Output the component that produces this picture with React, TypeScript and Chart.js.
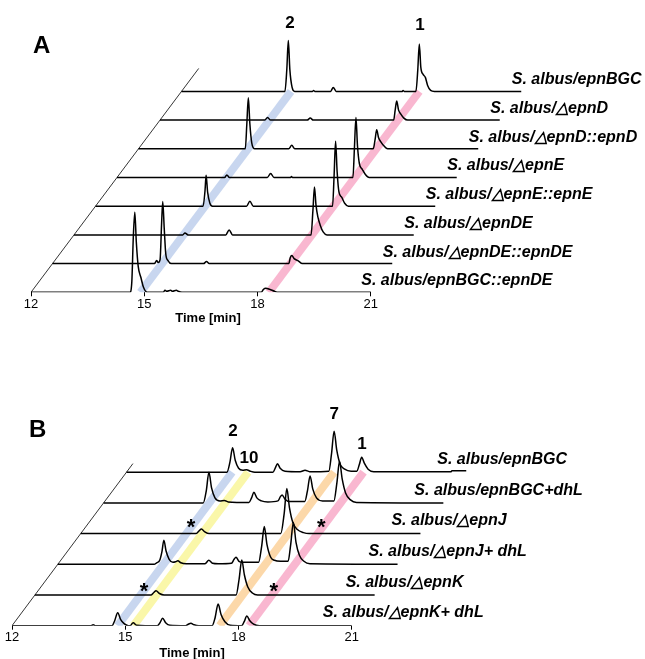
import React, { useEffect, useRef } from 'react';
import { Chart, registerables } from 'chart.js';

Chart.register(...registerables);

const FONT = "'Liberation Sans', Arial, Helvetica, sans-serif";
const TICK_VALUES = [12, 15, 18, 21];
const AXIS_TITLE = 'Time [min]';

// ---------- Panel A (traces listed bottom -> top) ----------
const A_NAMES = [
  'S. albus/epnBGC::epnDE',
  'S. albus/△epnDE::epnDE',
  'S. albus/△epnDE',
  'S. albus/△epnE::epnE',
  'S. albus/△epnE',
  'S. albus/△epnD::epnD',
  'S. albus/△epnD',
  'S. albus/epnBGC',
];

const A_epnBGC_epnDE = [[12,0],[14.62,0],[14.67,10],[14.71,55],[14.75,80],[14.79,50],[14.84,26],[14.91,15],[14.98,5],[15.08,0],[15.5,0],[15.55,2],[15.6,1],[15.7,2],[15.75,1],[15.85,2],[15.9,1],[16.0,0],[18.1,0],[18.16,3],[18.22,4],[18.32,3],[18.45,1],[18.55,0],[21,0]];
const A_dDE_epnDE = [[12,0],[14.7,0],[14.76,3],[14.8,1],[14.85,4],[14.89,40],[14.92,62],[14.96,35],[15.0,10],[15.06,3],[15.15,0],[16.0,0],[16.08,2],[16.15,0],[18.26,0],[18.3,6],[18.34,8],[18.4,5],[18.5,3],[18.62,0],[21,0]];
const A_dDE = [[12,0],[14.88,0],[14.94,2],[15.02,0],[16.02,0],[16.11,5],[16.2,0],[18.28,0],[18.33,25],[18.37,48],[18.41,30],[18.46,18],[18.52,10],[18.6,3],[18.7,0],[21,0]];
const A_dE_epnE = [[12,0],[14.85,0],[14.9,15],[14.93,31],[14.97,14],[15.03,3],[15.1,0],[16.0,0],[16.09,5],[16.18,0],[18.28,0],[18.32,30],[18.36,65],[18.4,35],[18.45,14],[18.52,9],[18.6,3],[18.7,0],[21,0]];
const A_dE = [[12,0],[14.85,0],[14.91,2.5],[14.98,0],[15.98,0],[16.07,4],[16.16,0],[16.6,0],[16.62,1],[16.65,0],[18.25,0],[18.29,30],[18.33,60],[18.37,32],[18.42,14],[18.5,8],[18.58,3],[18.68,0],[21,0]];
const A_dD_epnD = [[12,0],[14.83,0],[14.87,25],[14.91,51],[14.95,25],[15.0,6],[15.08,0],[15.98,0],[16.06,3.5],[16.14,0],[18.22,0],[18.27,10],[18.31,19],[18.36,11],[18.42,7],[18.5,3],[18.6,0],[21,0]];
const A_dD = [[12,0],[14.77,0],[14.85,2.5],[14.93,0],[15.9,0],[15.98,2],[16.06,0],[18.19,0],[18.23,10],[18.27,19],[18.32,10],[18.38,6],[18.46,2],[18.56,0],[21,0]];
const A_epnBGC = [[12,0],[14.74,0],[14.79,22],[14.83,51],[14.87,22],[14.93,4],[15.0,0],[15.47,0],[15.5,1],[15.53,0],[15.95,0],[16.02,4],[16.1,0],[17.85,0],[17.87,1],[17.9,0],[18.21,0],[18.26,22],[18.3,47.5],[18.34,24],[18.4,17],[18.46,14],[18.52,6],[18.6,1],[18.7,0],[21,0]];
const A_TRACES = [A_epnBGC_epnDE, A_dDE_epnDE, A_dDE, A_dE_epnE, A_dE, A_dD_epnD, A_dD, A_epnBGC];

const A_BAND_TIMES = [14.9, 18.3];
const A_BAND_COLORS = ['rgba(190,207,236,0.85)', 'rgba(248,170,200,0.85)'];
const A_PEAK_LABELS = [
  { text: '2', t: 14.874, k: 7, h: 68.4 },
  { text: '1', t: 18.32, k: 7, h: 66.4 },
];

// ---------- Panel B (traces listed bottom -> top) ----------
const B_NAMES = [
  'S. albus/△epnK+ dhL',
  'S. albus/△epnK',
  'S. albus/△epnJ+ dhL',
  'S. albus/△epnJ',
  'S. albus/epnBGC+dhL',
  'S. albus/epnBGC',
];

const B_dK_dhL = [[12,0],[14.1,0],[14.15,1],[14.2,0],[14.65,0],[14.72,5],[14.8,13],[14.88,6],[14.97,2],[15.08,0],[15.13,0],[15.21,3],[15.3,0.5],[15.85,0],[15.92,3],[15.99,7.4],[16.07,3],[16.18,0.5],[16.6,0],[16.67,1.5],[16.74,2.4],[16.82,1],[16.95,0],[17.3,0],[17.38,8],[17.46,21.7],[17.54,11],[17.64,4],[17.78,0.5],[18.08,0],[18.15,4],[18.22,9.7],[18.3,5],[18.4,1.5],[18.55,0],[21,0]];
const B_dK = [[12,0],[15.08,0],[15.15,2.5],[15.21,4.3],[15.3,1.5],[15.42,0],[17.33,0],[17.41,16],[17.48,35],[17.55,20],[17.64,8],[17.76,2],[17.9,0],[21,0]];
const B_dJ_dhL = [[12,0],[14.55,0],[14.62,1.5],[14.7,4],[14.76,13],[14.81,24],[14.87,13],[14.95,5],[15.05,2],[15.12,2.5],[15.18,3.5],[15.26,1.5],[15.4,0.5],[15.9,0.5],[16.0,4],[16.1,1],[16.25,0.5],[16.6,1],[16.67,5],[16.72,7],[16.8,3],[16.9,2],[17.32,2],[17.4,18],[17.47,37.7],[17.54,20],[17.64,7],[17.74,4],[17.9,3],[18.1,3],[18.17,20],[18.24,41.7],[18.31,22],[18.4,9],[18.52,3],[18.68,0.5],[21,0]];
const B_dJ = [[12,0],[15.05,0],[15.13,2.5],[15.2,4.5],[15.28,2],[15.4,0],[17.3,0],[17.39,20],[17.46,45],[17.53,26],[17.62,11],[17.74,4],[17.9,1],[18.05,0],[21,0]];
const B_epnBGC_dhL = [[12,0],[14.64,0],[14.72,12],[14.79,30.6],[14.86,15],[14.95,5],[15.08,2],[15.2,2.5],[15.3,1],[15.85,0.5],[15.92,5],[15.98,10.6],[16.06,5],[16.18,2],[16.35,1],[16.62,2],[16.68,6],[16.73,8],[16.8,4],[16.92,1.5],[17.33,1.5],[17.4,12],[17.47,27],[17.54,14],[17.64,5],[17.8,2],[18.1,2],[18.18,20],[18.25,41.6],[18.32,24],[18.41,10],[18.54,3],[18.7,0.5],[21,0]];
const B_epnBGC = [[12,0],[14.66,0],[14.74,10],[14.81,24.4],[14.88,12],[14.97,4],[15.08,2],[15.18,2.5],[15.28,1],[15.4,0],[15.88,0],[15.94,4],[16.0,8.4],[16.07,4],[16.2,1],[16.6,0.5],[16.73,2],[16.85,0.5],[17.36,1],[17.43,18],[17.5,41],[17.57,22],[17.66,8],[17.78,3],[17.95,1],[18.1,1],[18.17,8],[18.23,15],[18.3,9],[18.4,3],[18.55,0.5],[20.6,0.5],[20.62,1.5],[21,1.5]];
const B_TRACES = [B_dK_dhL, B_dK, B_dJ_dhL, B_dJ, B_epnBGC_dhL, B_epnBGC];

const B_BAND_TIMES = [14.8, 15.22, 17.5, 18.28];
const B_BAND_COLORS = ['rgba(190,207,236,0.85)', 'rgba(250,246,160,0.9)', 'rgba(252,212,160,0.9)', 'rgba(248,170,200,0.85)'];
const B_PEAK_LABELS = [
  { text: '2', t: 14.82, k: 5, h: 41.2 },
  { text: '10', t: 15.245, k: 5, h: 14.2 },
  { text: '7', t: 17.5, k: 5, h: 58.2 },
  { text: '1', t: 18.24, k: 5, h: 28.2 },
];
const B_STARS = [
  { t: 14.92, k: 3, h: -0.7 },
  { t: 18.37, k: 3, h: -0.7 },
  { t: 14.89, k: 1, h: -3 },
  { t: 18.33, k: 1, h: -3 },
];

// ---------- layout ----------
const PX_PER_MIN = 37.75;

type PanelCfg = {
  width: number; height: number; left: number; axisH: number;
  dx: number; dy: number; kEnd: number;
  traces: number[][][]; names: string[];
  bandTimes: number[]; bandColors: string[];
  peakLabels: { text: string; t: number; k: number; h: number }[];
  stars: { t: number; k: number; h: number }[];
  letter: string; letterX: number; letterY: number;
  titleX: number; titleY: number;
  nameDX: number; nameDY: number;
};

const PANEL_A: PanelCfg = {
  width: 645, height: 330, left: 31, axisH: 37.7,
  dx: 0.5695, dy: 28.7, kEnd: 7.8,
  traces: A_TRACES, names: A_NAMES,
  bandTimes: A_BAND_TIMES, bandColors: A_BAND_COLORS,
  peakLabels: A_PEAK_LABELS, stars: [],
  letter: 'A', letterX: 33, letterY: 46,
  titleX: 208, titleY: 318,
  nameDX: -9.5, nameDY: -11.5,
};

const PANEL_B: PanelCfg = {
  width: 645, height: 329, left: 12, axisH: 33.3,
  dx: 0.6066, dy: 30.7, kEnd: 5.28,
  traces: B_TRACES, names: B_NAMES,
  bandTimes: B_BAND_TIMES, bandColors: B_BAND_COLORS,
  peakLabels: B_PEAK_LABELS, stars: B_STARS,
  letter: 'B', letterX: 29, letterY: 100,
  titleX: 192, titleY: 323,
  nameDX: -29, nameDY: -12.8,
};

function buildChart(canvas: HTMLCanvasElement, cfg: PanelCfg) {
  const n = cfg.traces.length;
  const datasets: any[] = [];
  cfg.traces.forEach((tr, k) => {
    datasets.push({
      data: tr.map(([t, v]) => ({ x: t + k * cfg.dx, y: v + k * cfg.dy })),
      borderColor: '#000',
      borderWidth: 1.5,
      pointRadius: 0,
      cubicInterpolationMode: 'monotone',
      fill: false,
      order: 0,
    });
  });
  cfg.bandTimes.forEach((t, i) => {
    datasets.push({
      data: [{ x: t, y: 0 }, { x: t + (n - 1) * cfg.dx, y: (n - 1) * cfg.dy }],
      borderColor: cfg.bandColors[i],
      borderWidth: 8,
      borderCapStyle: 'butt',
      pointRadius: 0,
      fill: false,
      order: 5,
    });
  });
  datasets.push({
    data: [{ x: 12, y: 0 }, { x: 12 + cfg.kEnd * cfg.dx, y: cfg.kEnd * cfg.dy }],
    borderColor: '#000',
    borderWidth: 0.8,
    pointRadius: 0,
    fill: false,
    order: 1,
  });

  const xMax = 12 + (cfg.width - cfg.left) / PX_PER_MIN;
  const yMax = cfg.height - cfg.axisH;

  const annot = {
    id: 'annot',
    afterDatasetsDraw(chart: any) {
      const ctx = chart.ctx;
      const xs = chart.scales.x;
      const ys = chart.scales.y;
      ctx.save();
      ctx.fillStyle = '#000';
      ctx.font = `bold 24px ${FONT}`;
      ctx.textAlign = 'left';
      ctx.textBaseline = 'middle';
      ctx.fillText(cfg.letter, cfg.letterX, cfg.letterY);
      ctx.font = `bold 17px ${FONT}`;
      ctx.textAlign = 'center';
      cfg.peakLabels.forEach((p) => {
        ctx.fillText(p.text, xs.getPixelForValue(p.t + p.k * cfg.dx), ys.getPixelForValue(p.h + p.k * cfg.dy));
      });
      ctx.font = `bold 22px ${FONT}`;
      ctx.textBaseline = 'alphabetic';
      cfg.stars.forEach((s) => {
        ctx.fillText('*', xs.getPixelForValue(s.t + s.k * cfg.dx), ys.getPixelForValue(s.h + s.k * cfg.dy));
      });
      ctx.textBaseline = 'middle';
      ctx.font = `italic bold 16px ${FONT}`;
      ctx.textAlign = 'left';
      cfg.names.forEach((name, k) => {
        const x = xs.getPixelForValue(21 + k * cfg.dx) + cfg.nameDX;
        const y = ys.getPixelForValue(k * cfg.dy) + cfg.nameDY;
        ctx.fillText(name, x, y);
      });
      ctx.font = `bold 13px ${FONT}`;
      ctx.textAlign = 'center';
      ctx.fillText(AXIS_TITLE, cfg.titleX, cfg.titleY);
      ctx.restore();
    },
  };

  return new Chart(canvas, {
    type: 'line',
    data: { datasets },
    options: {
      animation: false,
      responsive: false,
      maintainAspectRatio: false,
      devicePixelRatio: 1,
      layout: { padding: { left: cfg.left, right: 0, top: 0, bottom: 0 } },
      plugins: { legend: { display: false }, tooltip: { enabled: false }, title: { display: false } },
      scales: {
        x: {
          type: 'linear',
          min: 12,
          max: xMax,
          afterBuildTicks: (s: any) => { s.ticks = TICK_VALUES.map((v) => ({ value: v })); },
          afterFit: (s: any) => { s.height = cfg.axisH; },
          grid: { drawOnChartArea: false, drawTicks: true, tickLength: 4, color: '#000', lineWidth: 1 },
          border: { display: false },
          ticks: { padding: 0, color: '#000', font: { family: FONT, size: 13 }, maxRotation: 0, autoSkip: false },
        },
        y: { display: false, min: 0, max: yMax },
      },
    },
    plugins: [annot],
  } as any);
}

function Panel({ cfg, top }: { cfg: PanelCfg; top: number }) {
  const ref = useRef<HTMLCanvasElement | null>(null);
  useEffect(() => {
    if (!ref.current) return;
    const chart = buildChart(ref.current, cfg);
    return () => chart.destroy();
  }, [cfg]);
  return (
    <canvas
      ref={ref}
      width={cfg.width}
      height={cfg.height}
      style={{ position: 'absolute', left: 0, top, width: cfg.width, height: cfg.height, display: 'block' }}
    />
  );
}

export default function App() {
  return (
    <div style={{ position: 'fixed', left: 0, top: 0, width: 645, height: 659, background: '#fff' }}>
      <Panel cfg={PANEL_A} top={0} />
      <Panel cfg={PANEL_B} top={330} />
    </div>
  );
}
